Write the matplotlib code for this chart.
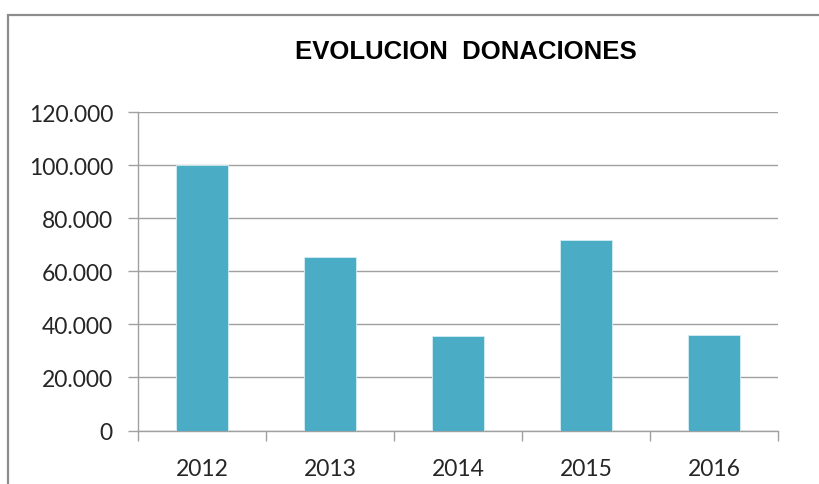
import matplotlib.pyplot as plt
import matplotlib as mpl
from matplotlib.patches import Rectangle
from matplotlib.ticker import FuncFormatter

years = ["2012", "2013", "2014", "2015", "2016"]
donaciones = [100000, 65500, 35500, 71800, 36000]
y_ticks = [0, 20000, 40000, 60000, 80000, 100000, 120000]

BAR = "#4BACC6"
GRID = "#A0A0A0"
TXT = "#262626"

mpl.rcParams.update({"font.family": ["Lato", "DejaVu Sans"]})

fig = plt.figure(figsize=(8.2, 4.85), dpi=100)
fig.patches.append(Rectangle((8 / 820, -0.1), 1.2, (470 + 48) / 485,
                             transform=fig.transFigure, fill=False,
                             edgecolor="#8C8C8C", linewidth=1.6))

ax = fig.add_axes([138 / 820, 53.5 / 485, 640 / 820, 318.5 / 485])
x = list(range(len(years)))
ax.bar(x, donaciones, width=0.4, color=BAR, edgecolor="#D5EEF4", linewidth=0.6, zorder=3)

ax.set_xlim(-0.5, len(years) - 0.5)
ax.set_ylim(0, 120000)
ax.set_yticks(y_ticks)
ax.yaxis.set_major_formatter(FuncFormatter(lambda v, p: f"{int(v):,}".replace(",", ".")))
ax.grid(axis="y", color=GRID, linewidth=1, zorder=0)

ax.set_xticks(x)
ax.set_xticklabels(years)
ax.set_xticks([i - 0.5 for i in range(len(years) + 1)], minor=True)
ax.tick_params(axis="x", which="major", length=0, pad=20, labelsize=16.5, labelcolor=TXT)
ax.tick_params(axis="x", which="minor", length=7, width=1, color=GRID)
ax.tick_params(axis="y", length=7, width=1, color=GRID, pad=11, labelsize=16.5, labelcolor=TXT)

for s in ["top", "right"]:
    ax.spines[s].set_visible(False)
for s in ["left", "bottom"]:
    ax.spines[s].set_color(GRID)
    ax.spines[s].set_linewidth(1)

fig.text(466 / 820, (485 - 52) / 485, "EVOLUCION  DONACIONES", ha="center", va="center",
         fontsize=18.5, fontweight="bold", family="Liberation Sans", color="black")

fig.savefig("out.png", dpi=100)
